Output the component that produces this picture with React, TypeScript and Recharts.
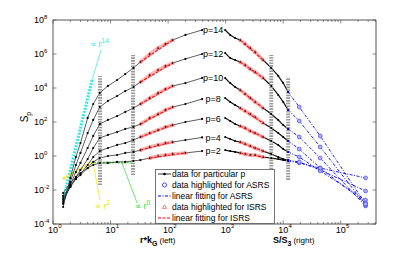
import React from 'react';
import { ComposedChart, Line, XAxis, YAxis, ReferenceLine, ReferenceDot } from 'recharts';

const FONT = '"Liberation Sans", Arial, Helvetica, sans-serif';
const AXIS = '#555';

// sampling of the branches: r*k_G on the left, S/S_3 on the right
const leftX = [1.5, 2, 2.5, 3, 4, 5, 6.5, 9, 13, 18, 25, 33, 48, 67, 90, 120, 200, 390];
const rightX = [980, 1200, 1460, 1790, 2180, 2680, 3250, 4480, 6200, 8200, 10000, 12200];
const asrsX = [12200, 19000, 44000, 270000];

// log10(S_p), left branch
const left2 = [-2.18, -1.59, -1.24, -1.0, -0.71, -0.53, -0.41, -0.41, -0.35, -0.35, -0.29, -0.24, -0.12, 0.0, 0.06, 0.12, 0.18, 0.29];
const left4 = [-2.35, -1.76, -1.35, -1.12, -0.71, -0.35, -0.12, 0.0, 0.06, 0.18, 0.24, 0.35, 0.53, 0.65, 0.76, 0.82, 0.94, 1.09];
const left6 = [-2.47, -1.82, -1.35, -1.06, -0.53, -0.06, 0.29, 0.47, 0.65, 0.76, 0.94, 1.12, 1.35, 1.53, 1.71, 1.82, 2.0, 2.18];
const left8 = [-2.59, -1.82, -1.24, -0.82, -0.18, 0.47, 1.06, 1.24, 1.41, 1.59, 1.71, 1.88, 2.24, 2.47, 2.71, 2.88, 3.06, 3.35];
const left10 = [-2.71, -1.71, -0.94, -0.41, 0.47, 1.18, 1.88, 2.12, 2.35, 2.59, 2.82, 3.06, 3.41, 3.71, 3.94, 4.12, 4.29, 4.59];
const left12 = [-2.82, -1.53, -0.53, 0.18, 1.35, 2.12, 2.88, 3.24, 3.53, 3.82, 4.06, 4.35, 4.76, 5.06, 5.29, 5.47, 5.71, 6.0];
const left14 = [-3.0, -1.29, -0.06, 0.76, 2.24, 3.06, 3.71, 4.12, 4.47, 4.82, 5.18, 5.53, 6.0, 6.35, 6.59, 6.82, 7.12, 7.41];

// log10(S_p), right branch (black part)
const right2 = [0.35, 0.29, 0.24, 0.18, 0.12, 0.06, 0.06, -0.06, -0.12, -0.18, -0.24, -0.29];
const right4 = [1.12, 1.0, 0.88, 0.82, 0.71, 0.59, 0.47, 0.29, 0.12, -0.06, -0.18, -0.24];
const right6 = [2.24, 2.06, 1.88, 1.76, 1.65, 1.47, 1.35, 1.12, 0.88, 0.65, 0.41, 0.24];
const right8 = [3.41, 3.18, 3.0, 2.82, 2.65, 2.47, 2.29, 1.94, 1.65, 1.35, 1.12, 0.88];
const right10 = [4.59, 4.29, 4.06, 3.88, 3.65, 3.41, 3.18, 2.82, 2.47, 2.12, 1.82, 1.59];
const right12 = [6.06, 5.76, 5.65, 5.53, 5.35, 5.12, 4.94, 4.59, 4.12, 3.59, 3.18, 2.71];
const right14 = [7.41, 7.12, 6.94, 6.82, 6.59, 6.35, 6.12, 5.65, 5.18, 4.71, 4.29, 3.76];

// log10(S_p), ASRS tail (blue)
const asrs2 = [-0.29, -0.41, -0.71, -1.29];
const asrs4 = [-0.24, -0.35, -0.82, -2.06];
const asrs6 = [0.24, -0.06, -0.88, -2.59];
const asrs8 = [0.88, 0.41, -0.71, -2.76];
const asrs10 = [1.59, 1.12, -0.12, -2.94];
const asrs12 = [2.71, 2.06, 0.53, -2.88];
const asrs14 = [3.76, 2.88, 1.18, -2.82];

const orders = [2, 4, 6, 8, 10, 12, 14];
const leftSets = [left2, left4, left6, left8, left10, left12, left14];
const rightSets = [right2, right4, right6, right8, right10, right12, right14];
const asrsSets = [asrs2, asrs4, asrs6, asrs8, asrs10, asrs12, asrs14];
const isrsLeftSpan = [[48, 200], [33, 120], [33, 120], [33, 120], [33, 120], [33, 120], [33, 120]];
const isrsRightSpan = [1790, 4480];

// reference power laws
const cyanX = [1.5, 4.77];
const cyanExp = [-2.59, 4.47];
const yellowX = [1.5, 4.9];
const yellowExp = [-1.35, -0.35];
const greenX = [5.2, 24.6];
const greenExp = [-0.38, -0.38];

// gray range boundaries
const barX = [6.57, 24.6, 6200, 12200];
const barLo = [-1.71, -1.12, -0.94, -1.41];
const barHi = [4.71, 5.94, 5.94, 4.65];

const xMajor = [1, 10, 100, 1e3, 1e4, 1e5];
const X_MAX = 4.1e5;
const xTicks = xMajor.flatMap((d) => [1, 2, 3, 4, 5, 6, 7, 8, 9].map((m) => m * d)).filter((v) => v <= X_MAX);
const yTicks = [1e-4, 1e-2, 1, 1e2, 1e4, 1e6, 1e8];

const pow = (e: number) => Math.pow(10, e);
const pts = (xs: number[], es: number[]) => xs.map((x, i) => ({ x, y: pow(es[i]) }));
const dec = (v: number) => Math.round(Math.log10(v));
const isMajor = (v: number) => Math.abs(Math.log10(v) - dec(v)) < 1e-6;

const BottomTick = (props: any) => {
  const { x, y, payload } = props;
  const v = payload.value;
  const major = isMajor(v);
  return (
    <g>
      <line x1={x} x2={x} y1={y} y2={y - (major ? 3.5 : 2)} stroke={AXIS} strokeWidth={0.7} />
      {major && (
        <>
          <text x={x} y={y + 9} textAnchor="middle" fontSize={9} fontFamily={FONT} fill="#000">10</text>
          <text x={x + 5.2} y={y + 4} fontSize={6} fontFamily={FONT} fill="#000">{dec(v)}</text>
        </>
      )}
    </g>
  );
};

const TopTick = (props: any) => {
  const { x, y, payload } = props;
  const major = isMajor(payload.value);
  return <line x1={x} x2={x} y1={y} y2={y + (major ? 3.5 : 2)} stroke={AXIS} strokeWidth={0.7} />;
};

const LeftTick = (props: any) => {
  const { x, y, payload } = props;
  return (
    <g>
      <line x1={x} x2={x + 3.5} y1={y} y2={y} stroke={AXIS} strokeWidth={0.7} />
      <text x={x - 9} y={y + 3.2} textAnchor="end" fontSize={9} fontFamily={FONT} fill="#000">10</text>
      <text x={x - 9} y={y - 1.5} fontSize={6} fontFamily={FONT} fill="#000">{dec(payload.value)}</text>
    </g>
  );
};

const RightTick = (props: any) => {
  const { x, y } = props;
  return <line x1={x} x2={x - 3.5} y1={y} y2={y} stroke={AXIS} strokeWidth={0.7} />;
};

const tri = (cx: number, cy: number, s = 1.7) => `M${cx},${cy - s * 1.1}L${cx + s},${cy + s * 0.7}L${cx - s},${cy + s * 0.7}Z`;

const TriDot = (props: any) => {
  const { cx, cy, index } = props;
  if (cx == null || cy == null) return <g key={index} />;
  return <path key={index} d={tri(cx, cy)} fill="none" stroke="#ff7070" strokeWidth={0.7} />;
};

const BlueDot = (props: any) => {
  const { cx, cy, index } = props;
  if (cx == null || cy == null) return <g key={index} />;
  if (index === 0) return <circle key={index} cx={cx} cy={cy} r={1} fill="#0000ff" />;
  return <circle key={index} cx={cx} cy={cy} r={1.9} fill="#b4b4ff" stroke="#4040ff" strokeWidth={0.7} />;
};

const textLabel = (content: (x: number, y: number) => React.ReactNode) => (props: any) => {
  const vb = props.viewBox || {};
  const x = (vb.x ?? 0) + (vb.width ?? 0) / 2;
  const y = (vb.y ?? 0) + (vb.height ?? 0) / 2;
  return <g>{content(x, y)}</g>;
};

const propLabel = (color: string, exp: string) =>
  textLabel((x, y) => (
    <text x={x} y={y} fontSize={9} fontFamily={FONT} fill={color}>
      ∝ r<tspan dy={-4} fontSize={6.5}>{exp}</tspan>
    </text>
  ));

const common = { isAnimationActive: false, activeDot: false as const, legendType: 'none' as const, dataKey: 'y' };

export default function App() {
  const series: React.ReactNode[] = [];
  orders.forEach((p, k) => {
    const L = pts(leftX, leftSets[k]);
    const R = pts(rightX, rightSets[k]);
    const B = pts(asrsX, asrsSets[k]);
    const [a, b] = isrsLeftSpan[k];
    const HL = L.filter((d) => d.x >= a && d.x <= b);
    const HR = R.filter((d) => d.x >= isrsRightSpan[0] && d.x <= isrsRightSpan[1]);
    const fitL = [HL[0], HL[HL.length - 1]];
    const fitR = [HR[0], HR[HR.length - 1]];
    series.push(
      <Line key={`bl${p}`} {...common} data={L} stroke="#333" strokeWidth={0.8} dot={{ r: 1.1, fill: '#000', stroke: 'none' }} />,
      <Line key={`br${p}`} {...common} data={R} stroke="#111" strokeWidth={1.2} dot={{ r: 1, fill: '#000', stroke: 'none' }} />,
      <Line key={`hl${p}`} {...common} data={HL} stroke="#ffb4b4" strokeWidth={3.5} dot={TriDot} />,
      <Line key={`hr${p}`} {...common} data={HR} stroke="#ffb4b4" strokeWidth={3.5} dot={TriDot} />,
      <Line key={`fl${p}`} {...common} data={fitL} stroke="#ff0000" strokeWidth={1.1} strokeDasharray="3 1.5" dot={false} />,
      <Line key={`fr${p}`} {...common} data={fitR} stroke="#ff0000" strokeWidth={1.1} strokeDasharray="3 1.5" dot={false} />,
      <Line key={`as${p}`} {...common} data={B} stroke="#0000ff" strokeWidth={0.9} strokeDasharray="3 1.5 1 1.5" dot={BlueDot} />,
    );
  });

  return (
    <div style={{ position: 'fixed', left: 0, top: 0, width: 415, height: 253, background: '#fff', fontFamily: FONT }}>
      <ComposedChart width={415} height={253} margin={{ top: 10, right: 29, left: 0, bottom: 0 }}>
        <XAxis
          dataKey="x"
          type="number"
          scale="log"
          domain={[1, X_MAX]}
          allowDataOverflow
          ticks={xTicks}
          interval={0}
          tickSize={0}
          tickMargin={0}
          tickLine={false}
          tick={<BottomTick />}
          height={29}
          axisLine={{ stroke: AXIS }}
        />
        <XAxis
          xAxisId="top"
          orientation="top"
          dataKey="x"
          type="number"
          scale="log"
          domain={[1, X_MAX]}
          allowDataOverflow
          ticks={xTicks}
          interval={0}
          tickSize={0}
          tickMargin={0}
          tickLine={false}
          tick={<TopTick />}
          height={10}
          axisLine={{ stroke: AXIS }}
        />
        <YAxis
          type="number"
          scale="log"
          domain={[1e-4, 1e8]}
          allowDataOverflow
          ticks={yTicks}
          interval={0}
          tickSize={0}
          tickMargin={0}
          tickLine={false}
          tick={<LeftTick />}
          width={53}
          axisLine={{ stroke: AXIS }}
        />
        <YAxis
          yAxisId="right"
          orientation="right"
          type="number"
          scale="log"
          domain={[1e-4, 1e8]}
          allowDataOverflow
          ticks={yTicks}
          interval={0}
          tickSize={0}
          tickMargin={0}
          tickLine={false}
          tick={<RightTick />}
          width={10}
          axisLine={{ stroke: AXIS }}
        />

        <Line {...common} data={pts(cyanX, cyanExp)} stroke="#30e8e8" strokeWidth={3} strokeDasharray="2 1.2" dot={false} />
        <Line {...common} data={pts(yellowX, yellowExp)} stroke="#e8e800" strokeWidth={2.5} strokeDasharray="2 1.5" dot={false} />
        <Line {...common} data={pts(greenX, greenExp)} stroke="#33dd33" strokeWidth={2} strokeDasharray="1.5 1.5" dot={false} />

        {series}

        {barX.map((x, i) => (
          <ReferenceLine
            key={`bar${i}`}
            segment={[{ x, y: pow(barLo[i]) }, { x, y: pow(barHi[i]) }]}
            stroke="#999999"
            strokeWidth={4}
            strokeDasharray="1.6 1.1"
          />
        ))}

        <ReferenceLine segment={[{ x: 4.77, y: pow(4.47) }, { x: 6.84, y: pow(6.24) }]} stroke="#30e8e8" strokeWidth={0.7} />
        <ReferenceLine segment={[{ x: 4.96, y: pow(-0.41) }, { x: 6.57, y: pow(-2.59) }]} stroke="#e8e800" strokeWidth={0.7} />
        <ReferenceLine segment={[{ x: 15.8, y: pow(-0.41) }, { x: 28.9, y: pow(-2.76) }]} stroke="#33dd33" strokeWidth={0.7} />

        <ReferenceDot x={4.4} y={pow(6.41)} r={0} label={propLabel('#30e8e8', '14')} />
        <ReferenceDot x={5.38} y={pow(-3.12)} r={0} label={propLabel('#e8e800', '2')} />
        <ReferenceDot x={26.7} y={pow(-3.12)} r={0} label={propLabel('#33dd33', '0')} />

        {orders.map((p, k) => (
          <ReferenceDot
            key={`pl${p}`}
            x={606}
            y={pow(leftSets[k][leftSets[k].length - 1])}
            r={0}
            label={textLabel((x, y) => (
              <text x={x} y={y + 3.2} textAnchor="middle" fontSize={9} fontFamily={FONT} fill="#000">{`p=${p}`}</text>
            ))}
          />
        ))}
      </ComposedChart>

      <svg width={415} height={253} style={{ position: 'absolute', left: 0, top: 0, pointerEvents: 'none' }} fontFamily={FONT}>
        <text transform="translate(28,117) rotate(-90)" textAnchor="middle" fontSize={10} fill="#000">
          S<tspan fontSize={7} dy={2.5}>p</tspan>
        </text>
        <text x={140} y={243} fontSize={9} fontWeight="bold" fill="#000">
          r*k<tspan fontSize={7} dy={2.5}>G</tspan>
          <tspan fontSize={8} fontWeight="normal" dy={-2.5} dx={2}>(left)</tspan>
        </text>
        <text x={273} y={243} fontSize={9} fontWeight="bold" fill="#000">
          S/S<tspan fontSize={7} dy={2.5}>3</tspan>
          <tspan fontSize={8} fontWeight="normal" dy={-2.5} dx={2}>(right)</tspan>
        </text>

        <g>
          <rect x={155.5} y={169.5} width={119} height={54} fill="#fff" stroke={AXIS} strokeWidth={0.8} />
          <line x1={158} x2={171} y1={174} y2={174} stroke="#000" strokeWidth={0.8} />
          <circle cx={164.5} cy={174} r={1.3} fill="#000" />
          <circle cx={164.5} cy={185} r={2.1} fill="none" stroke="#2020ff" strokeWidth={0.8} />
          <line x1={158} x2={171} y1={196} y2={196} stroke="#0000ff" strokeWidth={1} strokeDasharray="3 1.5 1 1.5" />
          <path d={tri(164.5, 207, 2)} fill="none" stroke="#ff5a5a" strokeWidth={0.8} />
          <line x1={158} x2={171} y1={218} y2={218} stroke="#ff0000" strokeWidth={1.2} strokeDasharray="3 1.5" />
          {['data for particular p', 'data highlighted for ASRS', 'linear fitting for ASRS', 'data highlighted for ISRS', 'linear fitting for ISRS'].map((t, i) => (
            <text key={t} x={172} y={177 + i * 11} fontSize={8.5} fill="#000">{t}</text>
          ))}
        </g>
      </svg>
    </div>
  );
}
